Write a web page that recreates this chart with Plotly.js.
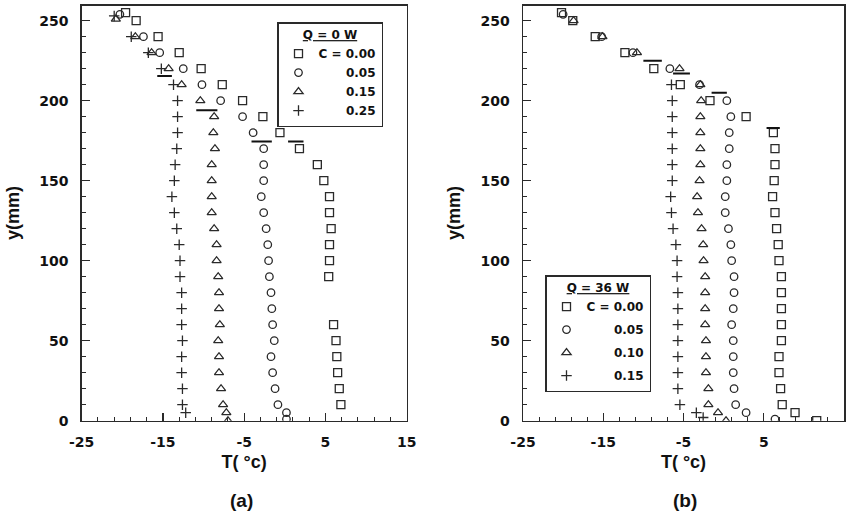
<!DOCTYPE html>
<html><head><meta charset="utf-8">
<script src="https://cdn.plot.ly/plotly-3.0.1.min.js"></script>
<style>html,body{margin:0;padding:0;background:#fff}</style>
</head><body>
<div id="chart" style="width:853px;height:520px"></div>
<script>
// ---------- Panel (a): Q = 0 W ----------
const aSqY = [255, 250, 240, 230, 220, 210, 200, 190, 180, 170, 160, 150, 140, 130, 120, 110, 100, 90, 60, 50, 40, 30, 20, 10];
const aSqX = [-19.6, -18.3, -15.6, -13.0, -10.3, -7.7, -5.2, -2.7, -0.6, 1.8, 4.0, 4.8, 5.5, 5.5, 5.7, 5.5, 5.5, 5.4, 6.0, 6.3, 6.4, 6.5, 6.7, 6.9];
const aCiY = [254, 240, 230, 220, 210, 200, 190, 180, 170, 160, 150, 140, 130, 120, 110, 100, 90, 80, 70, 60, 50, 40, 30, 20, 10, 5, 1];
const aCiX = [-20.3, -17.4, -15.4, -12.5, -10.2, -7.9, -5.2, -3.9, -2.6, -2.6, -2.6, -2.9, -2.6, -2.3, -2.1, -2.0, -1.9, -1.7, -1.6, -1.5, -1.3, -1.7, -1.5, -1.2, -0.85, 0.2, 0.2];
const aTrY = [251, 240, 230, 220, 210, 200, 190, 180, 170, 160, 150, 140, 130, 120, 110, 100, 90, 80, 70, 60, 50, 40, 30, 20, 10, 5, 0];
const aTrX = [-20.8, -18.4, -16.4, -14.3, -12.7, -10.4, -8.7, -8.8, -8.6, -9.0, -9.0, -9.0, -9.0, -8.7, -8.4, -8.4, -8.2, -8.1, -8.1, -8.0, -8.2, -8.1, -8.1, -7.85, -7.6, -7.2, -7.0];
const aPlY = [253, 240, 230, 220, 210, 200, 190, 180, 170, 160, 150, 140, 130, 120, 110, 100, 90, 80, 70, 60, 50, 40, 30, 20, 10, 5];
const aPlX = [-21.0, -18.9, -16.8, -15.2, -13.7, -13.2, -13.2, -13.2, -13.3, -13.5, -13.6, -13.9, -13.6, -13.3, -13.0, -12.9, -12.9, -12.7, -12.7, -12.7, -12.6, -12.7, -12.7, -12.6, -12.6, -12.2];
const aBarY  = [215.5, 194, 174.5, 174.5];
const aBarX0 = [-15.7, -10.9, -4.1, 0.4];
const aBarX1 = [-13.9, -8.3, -1.6, 2.3];
const aNames = ['C = 0.00', '0.05', '0.15', '0.25'];

// ---------- Panel (b): Q = 36 W ----------
const bSqY = [255, 250, 240, 230, 220, 210, 200, 190, 180, 170, 160, 150, 140, 130, 120, 110, 100, 90, 80, 70, 60, 50, 40, 30, 20, 10, 5, 0];
const bSqX = [-20.2, -18.8, -16.0, -12.3, -8.7, -5.4, -1.7, 2.8, 6.2, 6.4, 6.4, 6.3, 6.1, 6.4, 6.6, 6.8, 6.9, 7.2, 7.2, 7.2, 7.2, 7.2, 6.9, 6.9, 7.1, 7.3, 8.9, 11.6];
const bCiY = [254, 240, 230, 220, 210, 200, 190, 180, 170, 160, 150, 140, 130, 120, 110, 100, 90, 80, 70, 60, 50, 40, 30, 20, 10, 5, 1];
const bCiX = [-20.0, -15.2, -11.3, -6.7, -3.0, 0.4, 0.9, 0.7, 0.7, 0.4, 0.4, 0.2, 0.2, 0.6, 0.9, 1.0, 1.3, 1.3, 1.2, 1.0, 1.2, 1.2, 1.2, 1.3, 1.5, 2.8, 6.4];
const bTrY = [250, 240, 230, 220, 210, 200, 190, 180, 170, 160, 150, 140, 130, 120, 110, 100, 90, 80, 70, 60, 50, 40, 30, 20, 10, 5, 0];
const bTrX = [-18.7, -15.1, -10.8, -5.5, -2.9, -2.8, -2.9, -2.9, -2.9, -2.9, -3.0, -3.3, -3.2, -2.75, -2.55, -2.5, -2.3, -2.3, -2.3, -2.3, -2.2, -2.2, -2.2, -1.9, -1.9, -0.7, 0.3];
const bPlY = [210, 200, 190, 180, 170, 160, 150, 140, 130, 120, 110, 100, 90, 80, 70, 60, 50, 40, 30, 20, 10, 5, 2];
const bPlX = [-6.5, -6.4, -6.4, -6.4, -6.4, -6.4, -6.4, -6.6, -6.5, -6.3, -5.95, -5.8, -5.8, -5.7, -5.7, -5.7, -5.7, -5.7, -5.7, -5.7, -5.45, -3.4, -2.55];
const bBarY  = [225, 217, 205, 183];
const bBarX0 = [-10.0, -6.3, -1.5, 5.35];
const bBarX1 = [-7.7, -4.2, 0.4, 7.0];
const bNames = ['C = 0.00', '0.05', '0.10', '0.15'];

const xTickVals = [-25, -15, -5, 5, 15];
const xTickText = ['-25', '-15', '-5', '5', '15'];
const yTickVals = [0, 50, 100, 150, 200, 250];
const yTickText = ['0', '50', '100', '150', '200', '250'];

// ---------- styling ----------
const INK = '#2a2a2a';
const NB = '\u00A0';
function padName(n) { return n.startsWith('C') ? n : NB.repeat(6) + '\u2009' + n; }
const symbols = ['square-open', 'circle-open', 'triangle-up-open', 'cross-thin-open'];
const sizes = [8, 7.5, 8, 7.5];

function seriesTraces(xs, ys, names, xa, ya, legendId) {
  return xs.map((x, i) => ({
    type: 'scatter', mode: 'markers', x: x, y: ys[i], xaxis: xa, yaxis: ya,
    name: padName(names[i]), legend: legendId,
    legendgroup: legendId + 'g' + i,
    marker: { symbol: symbols[i], size: sizes[i], color: INK, line: { color: INK, width: 1.3 } },
    hoverinfo: 'x+y'
  }));
}
function barTrace(x0, x1, y, xa, ya) {
  const bx = [], by = [];
  y.forEach((v, i) => { bx.push(x0[i], x1[i], null); by.push(v, v, null); });
  return { type: 'scatter', mode: 'lines', x: bx, y: by, xaxis: xa, yaxis: ya,
           line: { color: '#111', width: 2 }, showlegend: false, hoverinfo: 'skip' };
}

const traces = [
  ...seriesTraces([aSqX, aCiX, aTrX, aPlX], [aSqY, aCiY, aTrY, aPlY], aNames, 'x', 'y', 'legend'),
  barTrace(aBarX0, aBarX1, aBarY, 'x', 'y'),
  ...seriesTraces([bSqX, bCiX, bTrX, bPlX], [bSqY, bCiY, bTrY, bPlY], bNames, 'x2', 'y2', 'legend2'),
  barTrace(bBarX0, bBarX1, bBarY, 'x2', 'y2')
];

const tickFont = { family: 'DejaVu Sans', size: 14, color: '#111', weight: 'bold' };
const titleFont = { family: 'Liberation Sans', size: 18, color: '#111', weight: 'bold' };
const panelFont = { family: 'Liberation Sans', size: 19, color: '#111', weight: 'bold' };
const legFont = { family: 'DejaVu Sans', size: 12, color: '#111', weight: 'bold' };
const bold = s => '<b>' + s + '</b>';

function xAxis(domain, anchor) {
  return {
    domain: domain, anchor: anchor, range: [-25, 15],
    tickmode: 'array', tickvals: xTickVals, ticktext: xTickText.map(bold),
    showgrid: false, zeroline: false, showline: true, mirror: true,
    linecolor: INK, linewidth: 1.5,
    ticks: 'inside', ticklen: 8, tickwidth: 1.2, tickcolor: INK,
    minor: { ticks: 'inside', ticklen: 4, tickwidth: 1, tickcolor: INK, dtick: 2, tick0: -25 },
    tickfont: tickFont, ticklabelstandoff: 8,
    title: { text: bold('T( \u00B0c)'), font: titleFont, standoff: 6 }
  };
}
function yAxis(domain, anchor) {
  return {
    domain: domain, anchor: anchor, range: [0, 259.5],
    tickmode: 'array', tickvals: yTickVals, ticktext: yTickText.map(bold),
    showgrid: false, zeroline: false, showline: true, mirror: true,
    linecolor: INK, linewidth: 1.5,
    ticks: 'inside', ticklen: 8, tickwidth: 1.2, tickcolor: INK,
    minor: { ticks: 'inside', ticklen: 4, tickwidth: 1, tickcolor: INK, dtick: 10, tick0: 0 },
    tickfont: tickFont, ticklabelstandoff: 9,
    title: { text: bold('y(mm)'), font: titleFont, standoff: 15 }
  };
}

const W = 853, H = 520;
const yDom = [(H - 420.7) / H, (H - 5.5) / H];
const layout = {
  width: W, height: H,
  margin: { l: 0, r: 0, t: 0, b: 0 },
  paper_bgcolor: '#fff', plot_bgcolor: '#fff',
  xaxis: xAxis([81.7 / W, 406.7 / W], 'y'),
  yaxis: yAxis(yDom, 'x'),
  xaxis2: xAxis([523 / W, 844 / W], 'y2'),
  yaxis2: yAxis(yDom, 'x2'),
  legend: {
    x: 277 / W, y: (H - 22) / H, xanchor: 'left', yanchor: 'top',
    bgcolor: '#fff', bordercolor: INK, borderwidth: 1.5,
    font: legFont, itemwidth: 30, traceorder: 'grouped', tracegroupgap: 0,
    title: { text: bold('<u>Q = 0 W</u>'), side: 'top center', font: legFont }
  },
  legend2: {
    x: 545 / W, y: (H - 275) / H, xanchor: 'left', yanchor: 'top',
    bgcolor: '#fff', bordercolor: INK, borderwidth: 1.5,
    font: legFont, itemwidth: 30, traceorder: 'grouped', tracegroupgap: 4,
    title: { text: bold('<u>Q = 36 W</u>'), side: 'top center', font: legFont }
  },
  annotations: [
    { text: bold('(a)'), xref: 'paper', yref: 'paper', x: 241.5 / W, y: (H - 500) / H,
      showarrow: false, font: panelFont, xanchor: 'center', yanchor: 'middle' },
    { text: bold('(b)'), xref: 'paper', yref: 'paper', x: 685 / W, y: (H - 500) / H,
      showarrow: false, font: panelFont, xanchor: 'center', yanchor: 'middle' }
  ],
  showlegend: true
};

Plotly.newPlot('chart', traces, layout, { staticPlot: true, displayModeBar: false });
</script>
</body></html>
